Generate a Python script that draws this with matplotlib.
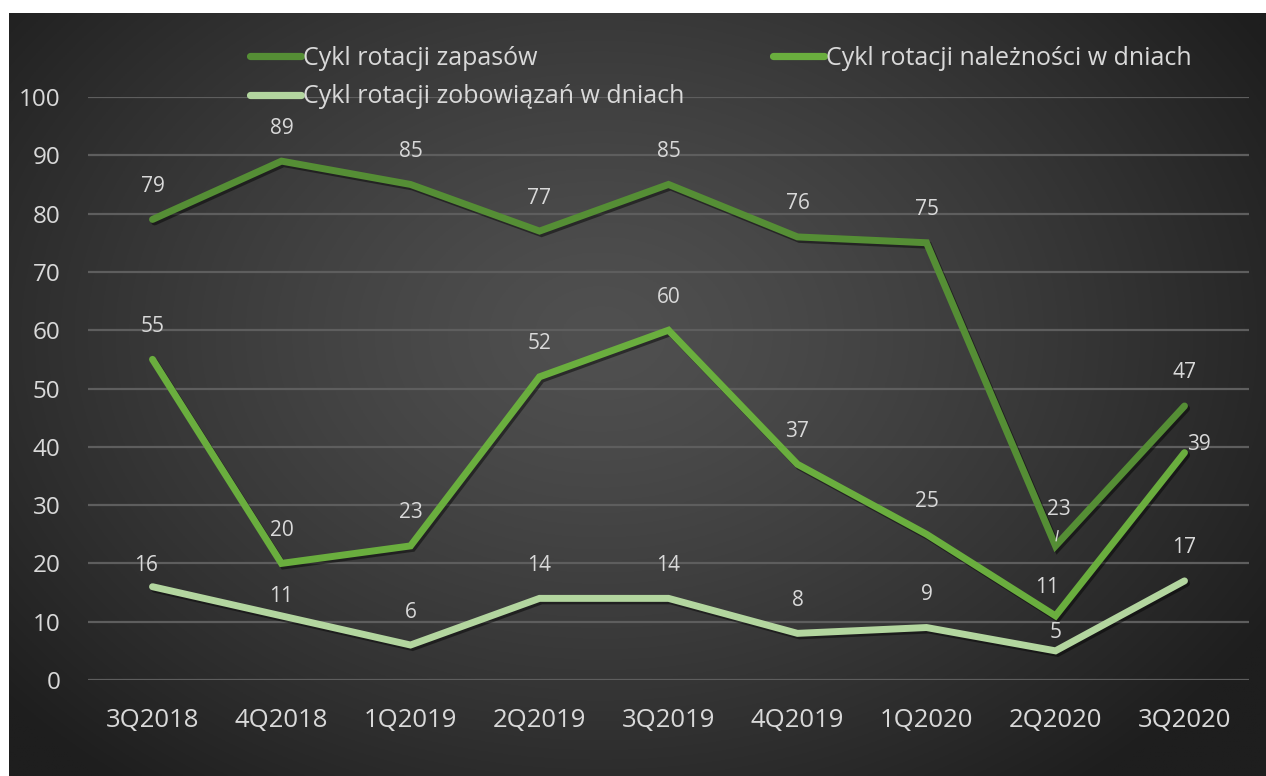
import numpy as np
import matplotlib
matplotlib.use("Agg")
import matplotlib.pyplot as plt
import matplotlib.patheffects as pe

categories = ["3Q2018", "4Q2018", "1Q2019", "2Q2019", "3Q2019", "4Q2019", "1Q2020", "2Q2020", "3Q2020"]
zapasy = [79, 89, 85, 77, 85, 76, 75, 23, 47]
naleznosci = [55, 20, 23, 52, 60, 37, 25, 11, 39]
zobowiazania = [16, 11, 6, 14, 14, 8, 9, 5, 17]
series_names = ["Cykl rotacji zapasów", "Cykl rotacji należności w dniach", "Cykl rotacji zobowiązań w dniach"]
yticks = [0, 10, 20, 30, 40, 50, 60, 70, 80, 90, 100]

plt.rcParams['font.family'] = ['Open Sans', 'DejaVu Sans']

W, H = 1266, 776
fig = plt.figure(figsize=(W / 100, H / 100), dpi=100)
fig.patch.set_facecolor('white')

# background with radial gradient
bg = fig.add_axes([9 / W, 0, 1 - 9 / W, 1 - 13 / H])
bg.set_axis_off()
ny, nx = 400, 650
yy, xx = np.mgrid[0:ny, 0:nx]
cx, cy = 0.47 * nx, 0.42 * ny
r = np.sqrt(((xx - cx) / (0.62 * nx)) ** 2 + ((yy - cy) / (0.75 * ny)) ** 2)
r = np.clip(r, 0, 1)
inner = np.array([0x50, 0x50, 0x50]) / 255
outer = np.array([0x1e, 0x1e, 0x1e]) / 255
img = inner[None, None, :] * (1 - r[..., None] ** 1.3) + outer[None, None, :] * (r[..., None] ** 1.3)
bg.imshow(img, aspect='auto', extent=[0, 1, 0, 1], origin='upper')
bg.set_xlim(0, 1)
bg.set_ylim(0, 1)

left, right, top, bottom = 88, 1249, 97, 680
ax = fig.add_axes([left / W, 1 - bottom / H, (right - left) / W, (bottom - top) / H])
ax.patch.set_alpha(0)
x = np.arange(len(categories))
ax.set_xlim(-0.5, len(categories) - 0.5)
ax.set_ylim(0, 100)
for s in ax.spines.values():
    s.set_visible(False)
ax.set_yticks(yticks)
ax.set_xticks(x)
ax.set_xticklabels(categories)
ax.tick_params(axis='y', length=0, pad=20, labelsize=17.5, labelcolor='#D9D9D9')
ax.tick_params(axis='x', length=0, pad=20, labelsize=18.5, labelcolor='#D9D9D9')
ax.yaxis.grid(True, color='#5E5E5E', lw=1.6)
ax.set_axisbelow(True)

colors = ['#558E35', '#6AAE3E', '#B3D69F']
shadow = [pe.SimpleLineShadow(offset=(1.5, -1.8), shadow_color='black', alpha=0.45), pe.Normal()]
lines = []
for vals, c, name in zip([zapasy, naleznosci, zobowiazania], colors, series_names):
    ln, = ax.plot(x, vals, color=c, lw=5.0, solid_capstyle='round', solid_joinstyle='miter',
                  label=name, path_effects=shadow, clip_on=False, zorder=3)
    lines.append(ln)

px = 72 / 100
default_off = (0, 33)
special = {
    (0, 7): (3, 36),
    (1, 7): (-8, 28),
    (1, 8): (14, 8),
    (2, 0): (-7, 21),
    (2, 1): (0, 19),
    (2, 7): (0, 18),
}
for si, vals in enumerate([zapasy, naleznosci, zobowiazania]):
    for i, v in enumerate(vals):
        off = special.get((si, i), default_off)
        ax.annotate(str(v), (x[i], v), xytext=(off[0] * px, off[1] * px), textcoords='offset points',
                    ha='center', va='center', fontsize=15, color='#D9D9D9', zorder=5)
# small leader line for the 23 label
ax.plot([x[7] + 0.005, x[7] + 0.02], [zapasy[7] + 0.9, zapasy[7] + 2.6], color='#D9D9D9', lw=1, zorder=4)

leg_kw = dict(loc='upper left', frameon=False, fontsize=18, handlelength=2.04, handletextpad=0.08,
              labelspacing=0.53, borderpad=0, borderaxespad=0)
leg1 = fig.legend([lines[0], lines[2]], [series_names[0], series_names[2]],
                  bbox_to_anchor=(250 / W, 1 - 46 / H), **leg_kw)
leg2 = fig.legend([lines[1]], [series_names[1]],
                  bbox_to_anchor=(773 / W, 1 - 46 / H), **leg_kw)
for leg in (leg1, leg2):
    for t in leg.get_texts():
        t.set_color('#D9D9D9')
    for h in leg.legend_handles:
        h.set_path_effects([])
        h.set_linewidth(5.2)

fig.savefig('out.png', dpi=100, facecolor='white')
